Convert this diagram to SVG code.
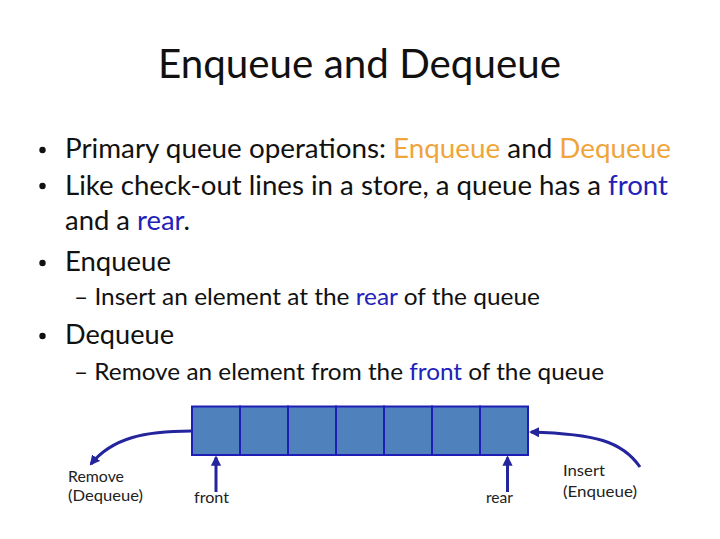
<svg xmlns="http://www.w3.org/2000/svg" width="720" height="539" viewBox="0 0 720 539">
<defs>
<style>
text{font-family:Lato,"Open Sans","Liberation Sans",sans-serif;fill:#111}
.t{font-size:40px}
.b{font-size:27px}
.s{font-size:24px}
.l{font-size:16px;fill:#222}
.o{fill:#F0A53A}
.u{fill:#2222B8}
.cell{fill:#4F81BD;stroke:#1E1EB4;stroke-width:2}
.con{fill:none;stroke:#24249C;stroke-width:3}
</style>
<marker id="ah" viewBox="0 0 10 10" refX="8" refY="5" markerWidth="3.4" markerHeight="3.4" orient="auto" markerUnits="strokeWidth">
<path d="M0,0 L10,5 L0,10 z" fill="#24249C"/>
</marker>
</defs>
<rect width="720" height="539" fill="#fff"/>
<g id="title"><text class="t" x="158" y="78" textLength="403" lengthAdjust="spacingAndGlyphs">Enqueue and Dequeue</text></g>
<g id="bullets">
<circle cx="42.5" cy="150" r="3.2" fill="#111"/>
<text class="b" x="65" y="158" textLength="606" lengthAdjust="spacingAndGlyphs">Primary queue operations: <tspan class="o">Enqueue</tspan> and <tspan class="o">Dequeue</tspan></text>
<circle cx="42.5" cy="186" r="3.2" fill="#111"/>
<text class="b" x="65" y="195" textLength="603" lengthAdjust="spacingAndGlyphs">Like check-out lines in a store, a queue has a <tspan class="u">front</tspan></text>
<text class="b" x="65" y="230" textLength="125" lengthAdjust="spacingAndGlyphs">and a <tspan class="u">rear</tspan>.</text>
<circle cx="42.5" cy="263" r="3.2" fill="#111"/>
<text class="b" x="65" y="271" textLength="106" lengthAdjust="spacingAndGlyphs">Enqueue</text>
<text class="s" x="74" y="305" textLength="466" lengthAdjust="spacingAndGlyphs">– Insert an element at the <tspan class="u">rear</tspan> of the queue</text>
<circle cx="42.5" cy="336" r="3.2" fill="#111"/>
<text class="b" x="65" y="344" textLength="109" lengthAdjust="spacingAndGlyphs">Dequeue</text>
<text class="s" x="74" y="380" textLength="530" lengthAdjust="spacingAndGlyphs">– Remove an element from the <tspan class="u">front</tspan> of the queue</text>
</g>
<g id="queue">
<rect class="cell" x="192" y="406.5" width="48" height="48.5"/>
<rect class="cell" x="240" y="406.5" width="48" height="48.5"/>
<rect class="cell" x="288" y="406.5" width="48" height="48.5"/>
<rect class="cell" x="336" y="406.5" width="48" height="48.5"/>
<rect class="cell" x="384" y="406.5" width="48" height="48.5"/>
<rect class="cell" x="432" y="406.5" width="48" height="48.5"/>
<rect class="cell" x="480" y="406.5" width="48" height="48.5"/>
</g>
<g id="connectors">
<path class="con" d="M191,431 C145,431 112,438 91,464" marker-end="url(#ah)"/>
<path class="con" d="M640,467 C622,441 595,434 531,432" marker-end="url(#ah)"/>
<path class="con" d="M216,492 L216,457.5" marker-end="url(#ah)"/>
<path class="con" d="M507.5,492 L507.5,457.5" marker-end="url(#ah)"/>
</g>
<g id="labels">
<text class="l" x="68" y="482" textLength="56" lengthAdjust="spacingAndGlyphs">Remove</text>
<text class="l" x="68" y="501" textLength="75" lengthAdjust="spacingAndGlyphs">(Dequeue)</text>
<text class="l" x="194" y="503" textLength="35" lengthAdjust="spacingAndGlyphs">front</text>
<text class="l" x="486" y="503" textLength="27" lengthAdjust="spacingAndGlyphs">rear</text>
<text class="l" x="563" y="476" textLength="42" lengthAdjust="spacingAndGlyphs">Insert</text>
<text class="l" x="563" y="497" textLength="74" lengthAdjust="spacingAndGlyphs">(Enqueue)</text>
</g>
</svg>
